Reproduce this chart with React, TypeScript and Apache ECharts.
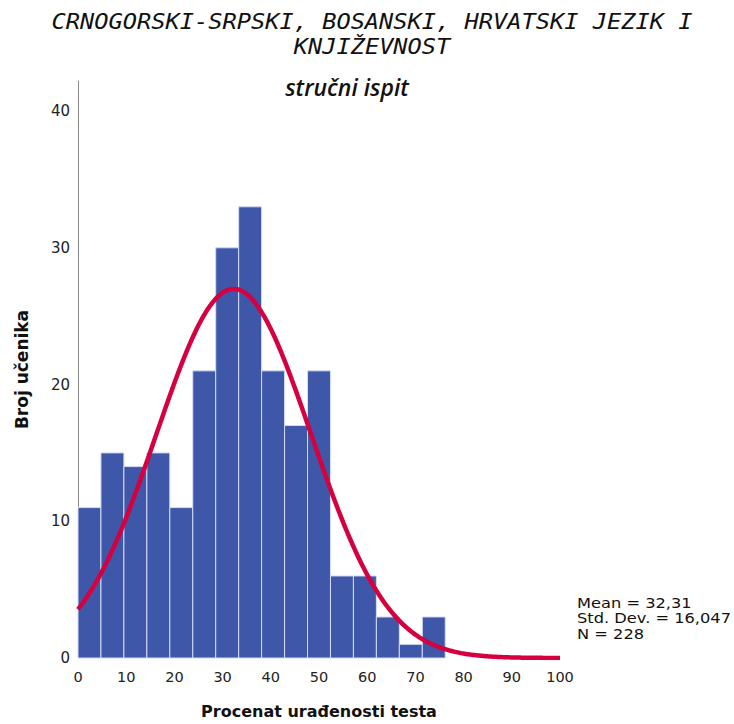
import React, { useEffect, useRef } from "react";
import * as echarts from "echarts";

const binCounts = [11, 15, 14, 15, 11, 21, 30, 33, 21, 17, 21, 6, 6, 3, 1, 3];
const binWidth = 100 / 21;
const mean = 32.31;
const stdDev = 16.047;
const n = 228;
const xTicks = [0, 10, 20, 30, 40, 50, 60, 70, 80, 90, 100];
const yTicks = [0, 10, 20, 30, 40];

const titleLine1 = "CRNOGORSKI-SRPSKI, BOSANSKI, HRVATSKI JEZIK I";
const titleLine2 = "KNJIŽEVNOST";
const subtitle = "stručni ispit";
const statsLines = ["Mean = 32,31", "Std. Dev. = 16,047", "N = 228"];

export default function App() {
  const ref = useRef<HTMLDivElement>(null);
  useEffect(() => {
    if (!ref.current) return;
    const chart = echarts.init(ref.current, undefined, { renderer: "svg" });
    const bars = binCounts.map((c, i) => [i * binWidth, (i + 1) * binWidth, c]);
    const curve: number[][] = [];
    for (let x = 0; x <= 100.0001; x += 0.5) {
      const z = (x - mean) / stdDev;
      const y = (n * binWidth) / (stdDev * Math.sqrt(2 * Math.PI)) * Math.exp(-0.5 * z * z);
      curve.push([x, y]);
    }
    chart.setOption({
      animation: false,
      backgroundColor: "#ffffff",
      grid: { left: 78, right: 174, top: 81, bottom: 52, containLabel: false },
      xAxis: {
        type: "value",
        min: 0,
        max: 100,
        interval: 10,
        axisLine: { show: false },
        axisTick: { show: false },
        splitLine: { show: false },
        axisLabel: {
          margin: 11,
          fontSize: 14.5,
          color: "#222",
          fontFamily: "DejaVu Sans",
          formatter: (v: number) => (xTicks.includes(v) ? String(v) : ""),
        },
        name: "Procenat urađenosti testa",
        nameLocation: "middle",
        nameGap: 45,
        nameTextStyle: { fontSize: 16, fontWeight: "bold", color: "#111", fontFamily: "DejaVu Sans" },
      },
      yAxis: {
        type: "value",
        min: 0,
        max: 42.2,
        interval: 10,
        axisLine: { show: true, lineStyle: { color: "#8a8a8a", width: 1 } },
        axisTick: { show: false },
        splitLine: { show: false },
        axisLabel: {
          margin: 8,
          fontSize: 15,
          color: "#222",
          fontFamily: "DejaVu Sans",
          formatter: (v: number) => (yTicks.includes(v) ? String(v) : ""),
        },
        name: "Broj učenika",
        nameLocation: "middle",
        nameGap: 48,
        nameRotate: 90,
        nameTextStyle: { fontSize: 17, fontWeight: "bold", color: "#111", fontFamily: "DejaVu Sans" },
      },
      series: [
        {
          type: "custom",
          data: bars,
          encode: { x: [0, 1], y: 2 },
          renderItem: (params: any, api: any) => {
            const p0 = api.coord([api.value(0), api.value(2)]);
            const p1 = api.coord([api.value(1), 0]);
            return {
              type: "rect",
              shape: { x: p0[0], y: p0[1], width: p1[0] - p0[0], height: p1[1] - p0[1] },
              style: { fill: "#3f57a8", stroke: "#d3dbf5", lineWidth: 1 },
            };
          },
          z: 1,
        },
        {
          type: "line",
          data: curve,
          showSymbol: false,
          smooth: true,
          lineStyle: { color: "#d4003f", width: 4.5 },
          z: 2,
        },
      ],
      graphic: [
        {
          type: "text",
          x: 372,
          y: 21,
          scaleX: 1.127,
          style: {
            text: titleLine1,
            font: "italic 21px 'DejaVu Sans Mono'",
            fill: "#111",
            align: "center",
            verticalAlign: "middle",
          },
        },
        {
          type: "text",
          x: 372,
          y: 46,
          scaleX: 1.127,
          style: {
            text: titleLine2,
            font: "italic 21px 'DejaVu Sans Mono'",
            fill: "#111",
            align: "center",
            verticalAlign: "middle",
          },
        },
        {
          type: "text",
          x: 347,
          y: 87,
          style: {
            text: subtitle,
            font: "italic 600 23px 'Open Sans'",
            fill: "#111",
            align: "center",
            verticalAlign: "middle",
          },
        },
        ...statsLines.map((t, i) => ({
          type: "text",
          x: 577,
          y: 603 + i * 15.5,
          scaleX: 1.16,
          style: {
            text: t,
            font: "14px 'DejaVu Sans'",
            fill: "#111",
            verticalAlign: "middle",
          },
        })),
      ],
    });
    return () => chart.dispose();
  }, []);
  return (
    <div
      ref={ref}
      style={{ position: "fixed", left: 0, top: 0, width: 734, height: 724, background: "#fff" }}
    />
  );
}
